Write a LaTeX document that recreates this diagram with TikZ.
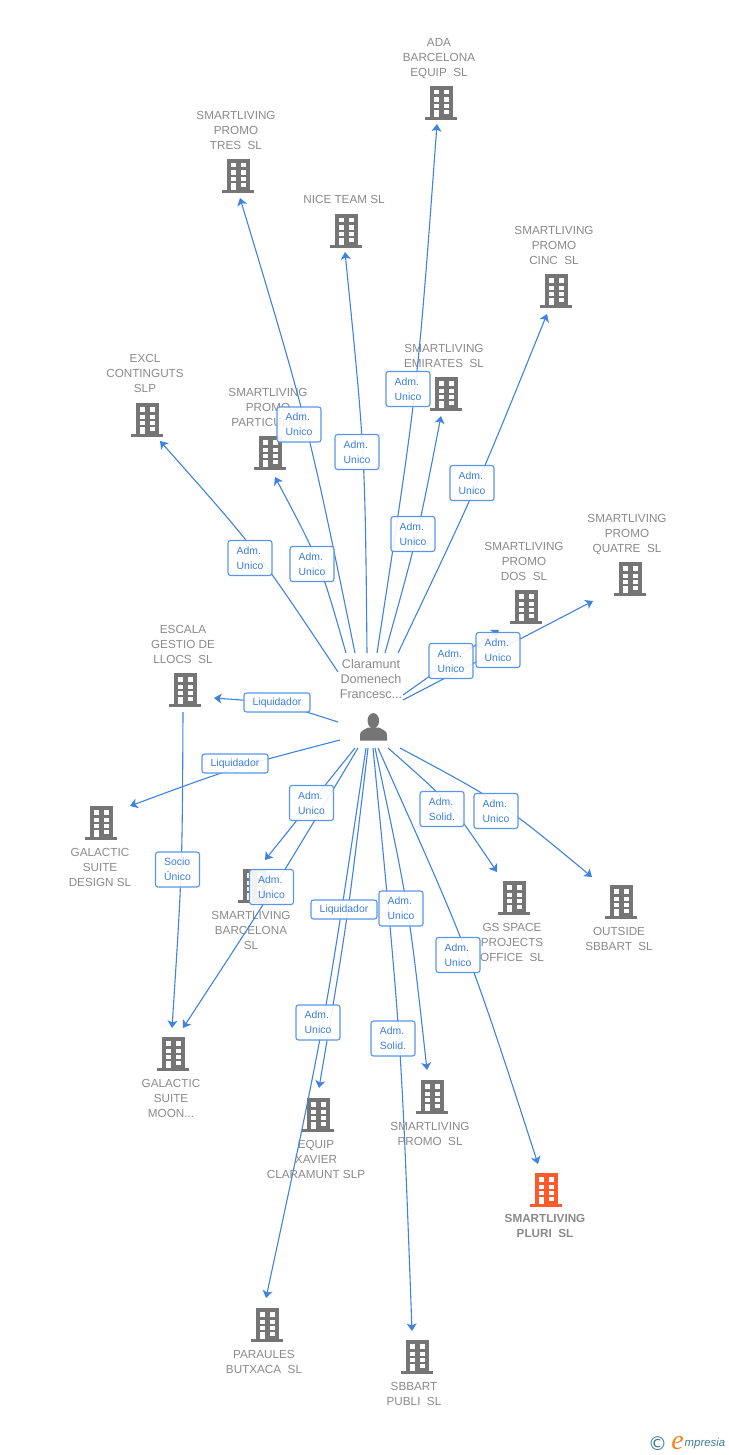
\documentclass[tikz,border=0pt]{standalone}
\usepackage{fontspec}
\setmainfont{Liberation Sans}
\newfontfamily\dejafont{DejaVu Sans}
\newfontfamily\serfont{Liberation Serif}
\usetikzlibrary{calc,arrows.meta}
\definecolor{linkblue}{HTML}{3F82E0}
\definecolor{boxblue}{HTML}{5A96E6}
\definecolor{txtblue}{HTML}{3C7EDB}
\definecolor{bgray}{HTML}{757575}
\definecolor{tgray}{HTML}{8A8A8A}
\definecolor{orangeb}{HTML}{FF5A2B}
\definecolor{teal1}{HTML}{3F7A94}
\definecolor{orange1}{HTML}{F58220}
\tikzset{
  link/.style={draw=linkblue,line width=1.1pt,-{Stealth[length=7.5pt,width=10pt,inset=2pt]}},
  bnode/.style={minimum width=32pt,minimum height=34pt,inner sep=0pt,outer sep=0pt},
  btext/.style={text=tgray,align=center,inner sep=0pt,yshift=-1.8pt,font=\fontsize{11.7}{15}\selectfont},
  lbl/.style={draw=boxblue,line width=1.1pt,rounded corners=2.5pt,fill=white,fill opacity=.9,text opacity=1,text=txtblue,inner sep=0pt,font=\fontsize{10.4}{15}\selectfont,align=left},
  lbltwo/.style={lbl,minimum width=44pt,minimum height=35pt},
  lblone/.style={lbl,minimum width=66pt,minimum height=19pt},
}
% name, x, y, colour, text x, text centre y, extra style, text
\newcommand\bldg[8]{%
  \node[bnode] (#1) at (#2,#3) {};
  \begin{scope}[shift={(#1.center)}]
    \fill[#4] (-11.5,-17) rectangle (11.5,14);
    \fill[#4] (-16,14) rectangle (16,17);
    \fill[white] (-7,-13) rectangle (-2,-8.5);
    \fill[white] (3,-13) rectangle (8,-8.5);
    \fill[white] (-7,-5.5) rectangle (-2,-1);
    \fill[white] (3,-5.5) rectangle (8,-1);
    \fill[white] (-7,1) rectangle (-2,5);
    \fill[white] (3,1) rectangle (8,5);
    \fill[white] (-7,7) rectangle (-2,14);
    \fill[white] (3,7) rectangle (8,11);
  \end{scope}
  \node[btext,#7] (#1-t) at (#5,#6) {\rule[-3pt]{0pt}{12pt}#8\rule[-3pt]{0pt}{12pt}};
}
\newcommand\lnk[5]{%
  \path ([shift={(#2)}]#1.center) coordinate (A) ([shift={(#4)}]#3.center) coordinate (B);
  \draw[link] (A) .. controls ($(A)!.5!(B)!#5!-90:(B)$) .. (B);
}
\begin{document}
\begin{tikzpicture}[x=1pt,y=-1pt]
\useasboundingbox (0,0) rectangle (728,1455);
% buildings
\bldg{ada}{441}{103}{bgray}{439}{57}{}{ADA\\BARCELONA\\EQUIP~~SL}
\bldg{tres}{238}{176}{bgray}{236}{130}{}{SMARTLIVING\\PROMO\\TRES~~SL}
\bldg{nice}{346}{231}{bgray}{344}{199}{}{NICE TEAM SL}
\bldg{cinc}{556}{291}{bgray}{554}{245}{}{SMARTLIVING\\PROMO\\CINC~~SL}
\bldg{emi}{446}{394}{bgray}{444}{355.5}{}{SMARTLIVING\\EMIRATES~~SL}
\bldg{excl}{147}{420}{bgray}{145}{373}{}{EXCL\\CONTINGUTS\\SLP}
\bldg{part}{270}{453}{bgray}{268}{407}{}{SMARTLIVING\\PROMO\\PARTICULAR}
\bldg{dos}{526}{607}{bgray}{524}{561}{}{SMARTLIVING\\PROMO\\DOS~~SL}
\bldg{quatre}{630}{579}{bgray}{627}{533}{}{SMARTLIVING\\PROMO\\QUATRE~~SL}
\bldg{escala}{185}{690}{bgray}{183}{644}{}{ESCALA\\GESTIO DE\\LLOCS~~SL}
\bldg{design}{101}{823}{bgray}{100}{867}{}{GALACTIC\\SUITE\\DESIGN SL}
\bldg{barc}{254}{886}{bgray}{251}{930}{}{SMARTLIVING\\BARCELONA\\SL}
\bldg{gs}{514}{898}{bgray}{512}{942}{}{GS SPACE\\PROJECTS\\OFFICE~~SL}
\bldg{outside}{621}{902}{bgray}{619}{938.5}{}{OUTSIDE\\SBBART~~SL}
\bldg{moon}{173}{1054}{bgray}{171}{1098}{}{GALACTIC\\SUITE\\MOON...}
\bldg{equip}{318}{1115}{bgray}{316}{1159}{}{EQUIP\\XAVIER\\CLARAMUNT SLP}
\bldg{promo}{432}{1097}{bgray}{430}{1133.5}{}{SMARTLIVING\\PROMO~~SL}
\bldg{pluri}{546}{1190}{orangeb}{545}{1225.5}{font=\fontsize{11.7}{15}\selectfont\bfseries}{SMARTLIVING\\PLURI~~SL}
\bldg{paraules}{267}{1325}{bgray}{264}{1361.5}{}{PARAULES\\BUTXACA~~SL}
\bldg{sbbart}{417}{1357}{bgray}{414}{1393.5}{}{SBBART\\PUBLI~~SL}
% person
\node[minimum width=65pt,minimum height=96pt,inner sep=0pt,outer sep=0pt] (person) at (370.5,700) {};
\node[text=tgray,align=center,inner sep=0pt,yshift=-1.8pt,font=\fontsize{12.6}{15}\selectfont] (persontext) at (371,679) {\rule[-3pt]{0pt}{12pt}Claramunt\\Domenech\\Francesc...\rule[-3pt]{0pt}{12pt}};
\fill[bgray] (373.3,720.7) ellipse (5.8pt and 7.6pt);
\fill[bgray] (360,740.7) -- (360,735) .. controls (360,731) and (364,730) .. (368,727.5) -- (379,727.5) .. controls (383,730) and (387,731) .. (387,735) -- (387,740.7) -- cycle;
% connectors
\lnk{person}{-32.5,-28}{excl}{13,21}{.07}
\lnk{person}{-24.5,-47}{part}{5,24}{.105}
\lnk{person}{-15.5,-47}{tres}{2,22}{.045}
\lnk{person}{-3.5,-47}{nice}{-1,21}{.045}
\lnk{person}{6.5,-47}{ada}{-4,21}{.04}
\lnk{person}{14.5,-47}{emi}{-5,22}{.04}
\lnk{person}{27.5,-47}{cinc}{-9,23}{.03}
\lnk{person}{32.5,-5}{dos}{-27,23}{-.02}
\lnk{person}{32.5,0}{quatre}{-37,22}{0}
\lnk{person}{-32.5,22}{escala}{29,8}{.12}
\lnk{person}{-30.5,40}{design}{29,-17}{.05}
\lnk{person}{-15.5,48}{barc}{11,-26}{0}
\lnk{person}{-12.5,48}{moon}{10,-26}{-.02}
\lnk{person}{-4.5,48}{paraules}{-1,-27}{-.032}
\lnk{person}{-2.5,48}{equip}{1,-27}{-.025}
\lnk{person}{2.5,48}{sbbart}{-5,-26}{-.03}
\lnk{person}{4.5,48}{promo}{-5,-27}{-.05}
\lnk{person}{7.5,48}{pluri}{-8,-26}{-.054}
\lnk{person}{17.5,48}{gs}{-17,-26}{-.13}
\lnk{person}{29.5,48}{outside}{-29,-25}{-.10}
\lnk{escala}{-2,22}{moon}{-1,-26}{-.03}
% labels
\node[lbltwo] (l1) at (408,389) {Adm.\\Unico};
\node[lbltwo] (l2) at (299,424.5) {Adm.\\Unico};
\node[lbltwo] (l3) at (357,452) {Adm.\\Unico};
\node[lbltwo] (l4) at (472,483) {Adm.\\Unico};
\node[lbltwo] (l5) at (413,534) {Adm.\\Unico};
\node[lbltwo] (l6) at (250,558) {Adm.\\Unico};
\node[lbltwo] (l7) at (312,564) {Adm.\\Unico};
\node[lbltwo] (l8) at (451,661) {Adm.\\Unico};
\node[lbltwo] (l9) at (498,650) {Adm.\\Unico};
\node[lblone] (l10) at (277,702.5) {Liquidador};
\node[lblone] (l11) at (235,763.5) {Liquidador};
\node[lbltwo] (l12) at (311.5,803) {Adm.\\Unico};
\node[lbltwo] (l13) at (442,809) {Adm.\\Solid.};
\node[lbltwo] (l14) at (496,811) {Adm.\\Unico};
\node[lbltwo] (l15) at (177.5,869.5) {Socio\\Único};
\node[lbltwo] (l16) at (271.5,887) {Adm.\\Unico};
\node[lblone] (l17) at (344,909.5) {Liquidador};
\node[lbltwo] (l18) at (401,908.5) {Adm.\\Unico};
\node[lbltwo] (l19) at (458,955) {Adm.\\Unico};
\node[lbltwo] (l20) at (318,1022.5) {Adm.\\Unico};
\node[lbltwo] (l21) at (393,1038.5) {Adm.\\Solid.};
% logo
\node[text=teal1,inner sep=0pt,font=\dejafont\fontsize{19}{19}\selectfont] (copy) at (657.5,1444) {©};
\node[text=orange1,inner sep=0pt,font=\serfont\itshape\fontsize{28}{28}\selectfont] (loge) at (677.5,1443.5) {e};
\node[text=teal1,inner sep=0pt,anchor=west,font=\itshape\fontsize{11.4}{11.4}\selectfont] (logt) at (684.5,1444) {mpresia};
\end{tikzpicture}
\end{document}
